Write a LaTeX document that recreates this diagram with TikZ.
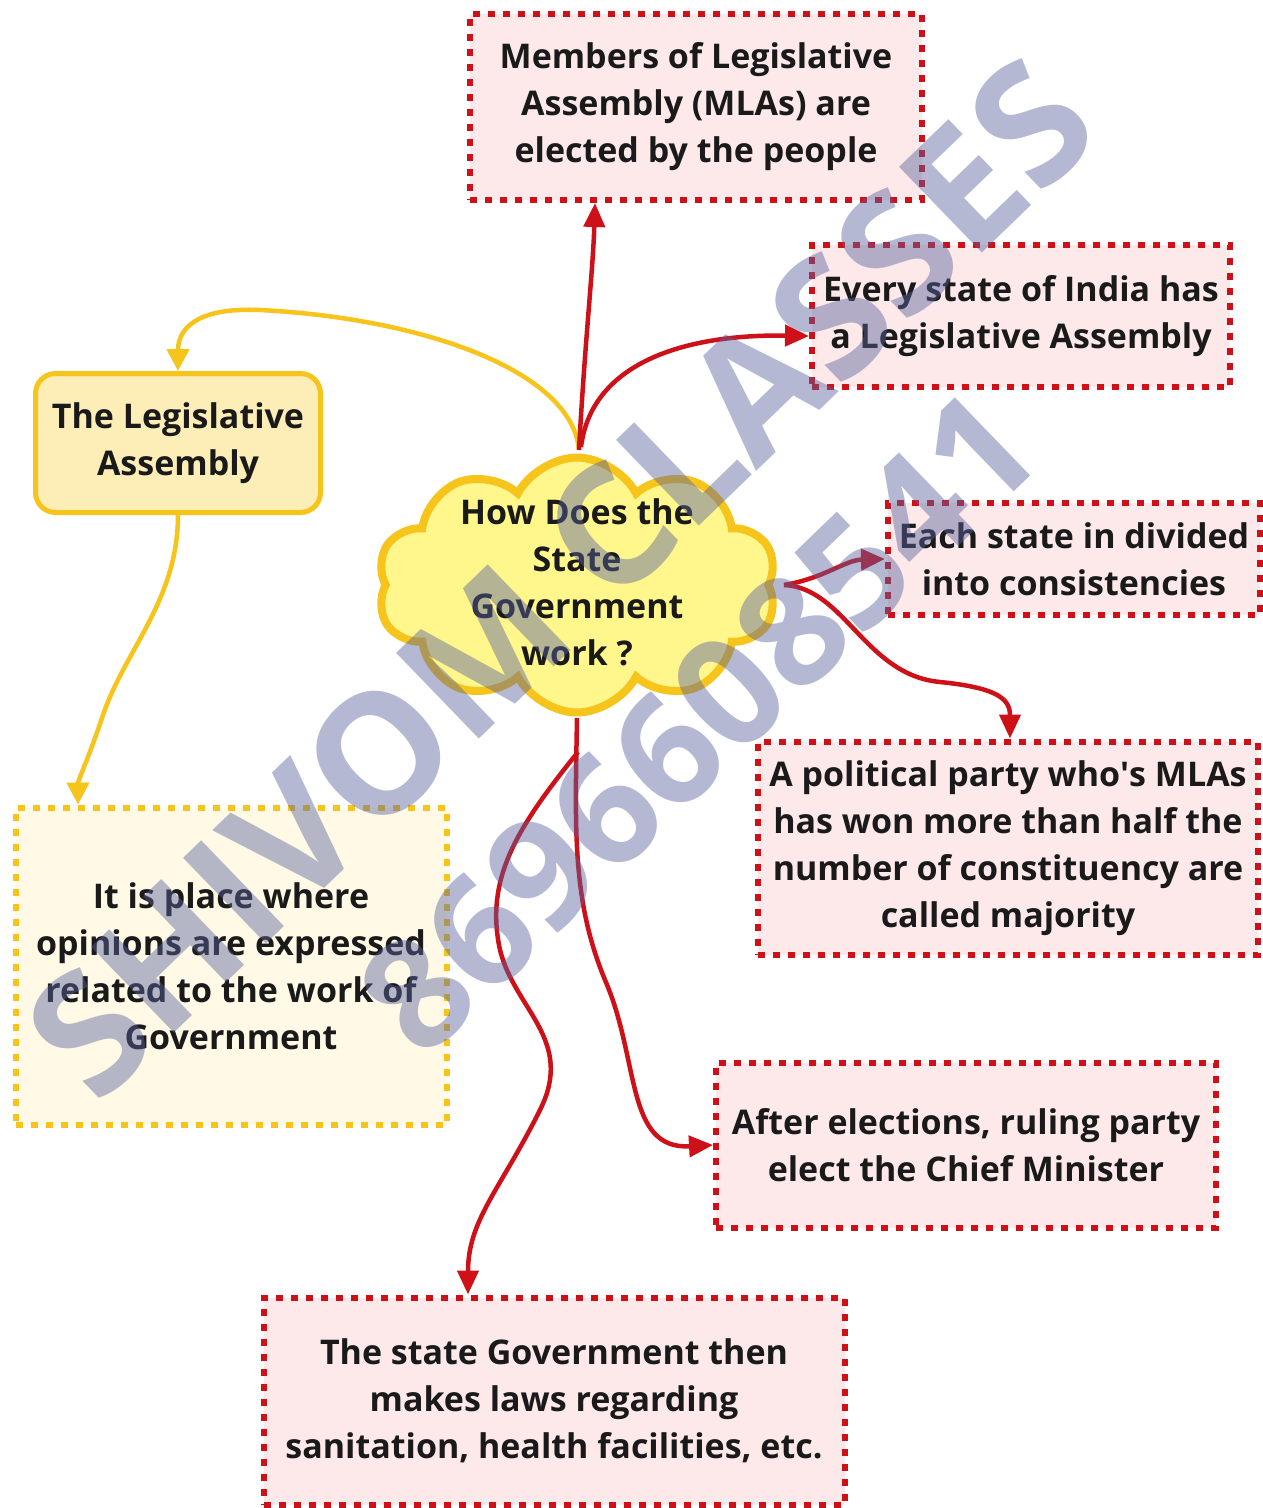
\documentclass[tikz,border=0pt]{standalone}
\usepackage{fontspec}
\setmainfont{Open Sans}
\usetikzlibrary{shapes.symbols,arrows.meta}
\definecolor{redc}{HTML}{CE1119}
\definecolor{pinkc}{HTML}{FDE9E9}
\definecolor{yelc}{HTML}{F6C41A}
\definecolor{yelfill}{HTML}{FFF9E6}
\definecolor{legfill}{HTML}{FDEDB6}
\definecolor{cloudfill}{HTML}{FFF68C}
\definecolor{txtc}{HTML}{1A1A1A}
\definecolor{wmc}{rgb}{0.35,0.39,0.62}
\begin{document}
\begin{tikzpicture}[x=1pt,y=-1pt,
  txt/.style={font=\fontsize{34}{47}\selectfont\bfseries, text=txtc, align=center},
  redbox/.style={txt, draw=redc, fill=pinkc, line width=6pt, dash pattern=on 7pt off 8pt, inner sep=1pt},
  yelbox/.style={txt, draw=yelc, fill=yelfill, line width=6pt, dash pattern=on 7pt off 8pt, inner sep=1pt},
  legbox/.style={txt, draw=yelc, fill=legfill, line width=5pt, rounded corners=20pt, inner sep=1pt},
  cloudshape/.style={cloud, cloud puffs=10, cloud puff arc=125, cloud ignores aspect, draw=yelc, fill=cloudfill, line width=8pt, minimum width=400pt, minimum height=255pt},
  redarr/.style={draw=redc, line width=4.5pt, -{Triangle[length=24pt,width=21pt]}},
  yelarr/.style={draw=yelc, line width=4.5pt, -{Triangle[length=22pt,width=22pt]}},
  wm/.style={text=wmc, opacity=0.45, rotate=44}
]
\useasboundingbox (0,0) rectangle (1263,1508);
\fill[white] (0,0) rectangle (1263,1508);

% boxes
\node[redbox, minimum width=452pt, minimum height=186pt] (mla) at (696,107) {Members of Legislative\\Assembly (MLAs) are\\elected by the people};
\node[redbox, minimum width=418pt, minimum height=142pt] (every) at (1021,316) {Every state of India has\\a Legislative Assembly};
\node[redbox, minimum width=372pt, minimum height=112pt] (each) at (1074,559) {Each state in divided\\into consistencies};
\node[redbox, minimum width=500pt, minimum height=213pt] (party) at (1008,848) {A political party who\textquotesingle s MLAs\\has won more than half the\\number of constituency are\\called majority};
\node[redbox, minimum width=500pt, minimum height=165pt] (after) at (966,1145) {After elections, ruling party\\elect the Chief Minister};
\node[redbox, minimum width=581pt, minimum height=207pt] (laws) at (554,1401) {The state Government then\\makes laws regarding\\sanitation, health facilities, etc.};
\node[yelbox, minimum width=431pt, minimum height=317pt] (place) at (231,966) {It is place where\\opinions are expressed\\related to the work of\\Government};
\node[legbox, minimum width=285pt, minimum height=139pt] (legis) at (178,443) {The Legislative\\Assembly};

% cloud
\node[cloudshape] (cloud) at (577,585) {};
\node[txt] (question) at (577,582) {How Does the\\State\\Government\\work ?};

\coordinate (ctop) at (579,450);
\coordinate (cright) at (784,585);
\coordinate (cbot) at (577,718);
\coordinate (cbot2) at (578,752);

% yellow connectors
\draw[yelarr] (ctop) .. controls (572,370) and (420,318) .. (260,310) .. controls (195,307) and (178,330) .. (legis.north);
\draw[yelarr] (legis.south) .. controls (178,600) and (125,650) .. (103,715) .. controls (88,760) and (78,780) .. ([xshift=-153pt]place.north);

% red connectors
\draw[redarr] (ctop) .. controls (585,340) and (593,270) .. ([xshift=-101pt]mla.south);
\draw[redarr] (581,447) .. controls (592,360) and (690,334) .. ([yshift=-20pt]every.west);
\draw[redarr] (cright) .. controls (825,578) and (845,560) .. (each.west);
\draw[redarr] (cright) .. controls (845,588) and (865,675) .. (940,682) .. controls (1000,688) and (1010,700) .. ([xshift=2pt]party.north);
\draw[redarr] (cbot) .. controls (575,830) and (572,900) .. (605,980) .. controls (640,1060) and (625,1150) .. (after.west);
\draw[redarr] (cbot2) .. controls (515,830) and (485,880) .. (500,950) .. controls (515,1010) and (575,1040) .. (540,1110) .. controls (500,1190) and (468,1220) .. ([xshift=-86pt]laws.north);

% watermark
\node[wm, font=\fontsize{167}{190}\selectfont\bfseries] (wm1) at (560,578) {SHIVOM CLASSES};
\node[wm, font=\fontsize{152}{180}\selectfont\bfseries] (wm2) at (698,722) {8696608541};
\end{tikzpicture}
\end{document}
